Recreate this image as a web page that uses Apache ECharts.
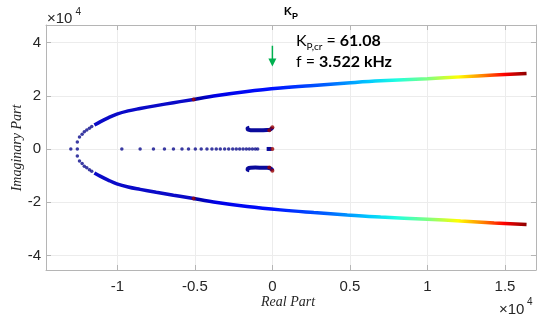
<!DOCTYPE html>
<html>
<head>
<meta charset="utf-8">
<script src="https://cdn.jsdelivr.net/npm/echarts@6/dist/echarts.min.js"></script>
<style>
html,body{margin:0;padding:0;background:#fff}
#chart{width:541px;height:320px}
</style>
</head>
<body>
<div id="chart"></div>
<script>
// values in units of 1e4
var xTicks=[-1,-0.5,0,0.5,1,1.5];
var yTicks=[-4,-2,0,2,4];

// main branch (upper half, lower is the mirror)
var mainX=[-0.508,-0.379,-0.163,0.052,0.267,0.483,0.698,0.999,1.214,1.43,1.639];
var mainY=[1.86,1.99,2.16,2.29,2.39,2.48,2.56,2.64,2.71,2.78,2.84];

// dense part of the arc from breakaway to the main branch
var arcX=[-1.148,-1.111,-1.059,-1.003,-0.930,-0.853,-0.749,-0.638,-0.508];
var arcY=[0.90,1.02,1.17,1.31,1.43,1.52,1.63,1.74,1.86];

// sparse dots on the arc
var arcDotX=[-1.258,-1.244,-1.227,-1.213,-1.197,-1.180,-1.165];
var arcDotY=[0.26,0.45,0.55,0.65,0.71,0.78,0.84];

// dots on the real axis
var realDotX=[-1.300,-1.258,-0.971,-0.853,-0.767,-0.696,-0.638,-0.583,-0.541,-0.497,-0.459,-0.422,-0.390,-0.362,-0.336,-0.308,-0.282,-0.256,-0.233,-0.211,-0.189,-0.168,-0.149,-0.129,-0.110,-0.095];

// small hooks near the origin
var hookX=[-0.148,-0.160,-0.158,-0.140,-0.110,-0.070,-0.035,-0.015,-0.004,0];
var hookY=[0.80,0.77,0.73,0.705,0.70,0.705,0.71,0.725,0.77,0.815];

// short cluster on the real axis next to 0
var clusterX=[-0.037,-0.005];

// start points (dark red)
var startX=[0,0,0,-0.02,-0.02,-0.508,-0.508];
var startY=[0,0.815,-0.815,0.70,-0.70,1.86,-1.86];

function pairs(xs,ys,sign){
    return xs.map(function(x,i){return [x,sign*ys[i]];});
}

var jet=new echarts.graphic.LinearGradient(0,0,1,0,[
    {offset:0,color:'#00008f'},
    {offset:0.074,color:'#0000e6'},
    {offset:0.237,color:'#0010ff'},
    {offset:0.40,color:'#0060ff'},
    {offset:0.525,color:'#00c8ff'},
    {offset:0.609,color:'#20ffe0'},
    {offset:0.702,color:'#80ff80'},
    {offset:0.79,color:'#ffff00'},
    {offset:0.865,color:'#ff8000'},
    {offset:0.926,color:'#ff0000'},
    {offset:1,color:'#800000'}
]);

var axisGray='#b5b5b5';
var txt='#262626';
var font='"Liberation Sans", Arial, sans-serif';

var chart=echarts.init(document.getElementById('chart'));

var option={
    animation:false,
    grid:{left:46,right:5,top:25,bottom:50},
    xAxis:[{
        type:'value',position:'bottom',min:-1.46,max:1.70,
        axisLine:{show:true,onZero:false,lineStyle:{color:axisGray}},
        axisTick:{show:true,inside:true,length:5,customValues:xTicks,lineStyle:{color:axisGray}},
        axisLabel:{customValues:xTicks,fontSize:15,color:txt,margin:9,fontFamily:font},
        splitLine:{show:true,lineStyle:{color:'#ececec'}}
    },{
        type:'value',position:'top',min:-1.46,max:1.70,
        axisLine:{show:true,onZero:false,lineStyle:{color:axisGray}},
        axisTick:{show:true,inside:true,length:5,customValues:xTicks,lineStyle:{color:axisGray}},
        axisLabel:{show:false},
        splitLine:{show:false}
    }],
    yAxis:[{
        type:'value',position:'left',min:-4.55,max:4.66,
        axisLine:{show:true,onZero:false,lineStyle:{color:axisGray}},
        axisTick:{show:true,inside:true,length:5,customValues:yTicks,lineStyle:{color:axisGray}},
        axisLabel:{customValues:yTicks,fontSize:15,color:txt,margin:5,fontFamily:font},
        splitLine:{show:true,lineStyle:{color:'#ececec'}}
    },{
        type:'value',position:'right',min:-4.55,max:4.66,
        axisLine:{show:true,onZero:false,lineStyle:{color:axisGray}},
        axisTick:{show:true,inside:true,length:5,customValues:yTicks,lineStyle:{color:axisGray}},
        axisLabel:{show:false},
        splitLine:{show:false}
    }],
    series:[
        {type:'line',data:pairs(arcX,arcY,1),smooth:0.4,showSymbol:false,lineStyle:{color:'#0a0ac8',width:3.5},z:2},
        {type:'line',data:pairs(arcX,arcY,-1),smooth:0.4,showSymbol:false,lineStyle:{color:'#0a0ac8',width:3.5},z:2},
        {type:'line',data:pairs(mainX,mainY,1),smooth:0.4,showSymbol:false,lineStyle:{color:jet,width:3.5},z:3},
        {type:'line',data:pairs(mainX,mainY,-1),smooth:0.4,showSymbol:false,lineStyle:{color:jet,width:3.5},z:3},
        {type:'line',data:pairs(hookX,hookY,1),smooth:0.3,showSymbol:false,lineStyle:{color:'#0a0a9c',width:4},z:2},
        {type:'line',data:pairs(hookX,hookY,-1),smooth:0.3,showSymbol:false,lineStyle:{color:'#0a0a9c',width:4},z:2},
        {type:'line',data:clusterX.map(function(x){return [x,0];}),showSymbol:false,lineStyle:{color:'#0a0a9c',width:4},z:2},
        {type:'scatter',symbolSize:3.5,itemStyle:{color:'#0a0a8c'},z:2,
            data:pairs(arcDotX,arcDotY,1).concat(pairs(arcDotX,arcDotY,-1)).concat(realDotX.map(function(x){return [x,0];}))},
        {type:'scatter',symbolSize:4,itemStyle:{color:'#9b0000'},z:4,data:pairs(startX,startY,1)}
    ]
};
chart.setOption(option);

// green arrow pointing down at Re = 0
var arrowX=0, arrowTop=3.88, arrowBottom=3.10;
var pTop=chart.convertToPixel({xAxisIndex:0,yAxisIndex:0},[arrowX,arrowTop]);
var pBot=chart.convertToPixel({xAxisIndex:0,yAxisIndex:0},[arrowX,arrowBottom]);

chart.setOption({graphic:[
    {id:'e1',type:'text',left:47,top:11,style:{text:'×10',font:'15px '+font,fill:txt}},
    {id:'e2',type:'text',left:75.5,top:7,style:{text:'4',font:'10px '+font,fill:txt}},
    {id:'e3',type:'text',left:499,top:302,style:{text:'×10',font:'15px '+font,fill:txt}},
    {id:'e4',type:'text',left:527,top:297,style:{text:'4',font:'10px '+font,fill:txt}},
    {id:'t1',type:'text',left:284,top:6,style:{text:'K',font:'bold 11px '+font,fill:'#000'}},
    {id:'t2',type:'text',left:292,top:12,style:{text:'P',font:'bold 9px '+font,fill:'#000'}},
    {id:'yl',type:'text',x:17,y:148,rotation:Math.PI/2,style:{text:'Imaginary Part',font:'italic 14px "Liberation Serif", serif',fill:txt,align:'center',verticalAlign:'middle'}},
    {id:'xl',type:'text',x:288,y:302,style:{text:'Real Part',font:'italic 14px "Liberation Serif", serif',fill:txt,align:'center',verticalAlign:'middle'}},
    {id:'note',type:'text',left:296,top:33,style:{
        text:'{k|K}{s|P,cr}{n| = }{b|61.08}\n{n|f = }{b|3.522 kHz}',
        rich:{
            k:{fontFamily:'Lato',fontSize:16,lineHeight:21,fill:'#000'},
            s:{fontFamily:'Lato',fontSize:10,lineHeight:12,verticalAlign:'bottom',fill:'#000'},
            n:{fontFamily:'Lato',fontSize:16,lineHeight:21,fill:'#000'},
            b:{fontFamily:'Lato',fontSize:16,fontWeight:'bold',lineHeight:21,fill:'#000'}
        }
    }},
    {id:'shaft',type:'rect',shape:{x:pTop[0]-0.75,y:pTop[1],width:1.5,height:pBot[1]-pTop[1]-7},style:{fill:'#00b050'}},
    {id:'head',type:'polygon',shape:{points:[[pBot[0]-4,pBot[1]-8],[pBot[0]+4,pBot[1]-8],[pBot[0],pBot[1]]]},style:{fill:'#00b050'}}
]});
</script>
</body>
</html>
